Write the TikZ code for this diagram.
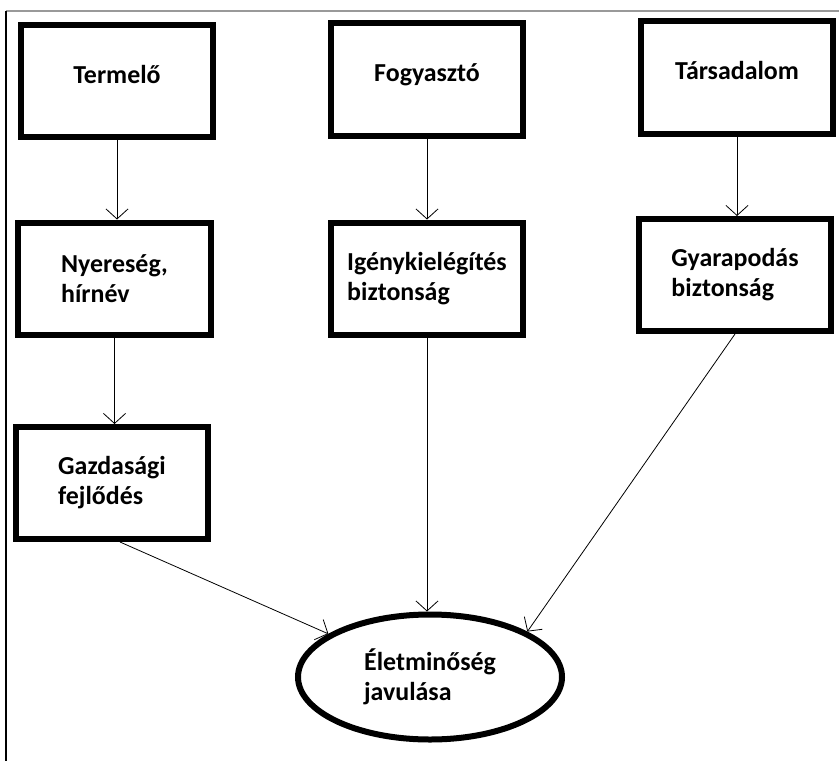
\documentclass[tikz,border=0pt]{standalone}
\usepackage{fontspec}
\setmainfont{Carlito}
\usetikzlibrary{arrows.meta,shapes.geometric}
\tikzset{
  box/.style={draw, rectangle, line width=6bp, minimum width=192bp, minimum height=112bp, font=\bfseries\fontsize{26}{30}\selectfont},
  oneline/.style={text height=0.7em, text depth=0.25em},
  twoline/.style={align=left},
  oval/.style={draw, ellipse, line width=6bp, minimum width=264bp, minimum height=125bp, inner sep=0pt, align=left, font=\bfseries\fontsize{26}{30}\selectfont},
  arr/.style={-{Straight Barb[length=10bp,width=22bp]}, line width=0.8bp}
}
\begin{document}
\begin{tikzpicture}[x=1bp,y=-1bp]
        \useasboundingbox (0,0) rectangle (839,761);
        % frame
        \draw [gray!80, line width=2bp] (6,11) -- (839,11);
        \draw [line width=1.5bp] (6,11) -- (6,761);
        % top row
        \node [box,oneline] (termelo) at (117,81) {Termel\H{o}};
        \node [box,oneline] (fogyaszto) at (427,79.5) {Fogyasztó};
        \node [box,oneline] (tarsadalom) at (737,77.5) {Társadalom};
        % second row
        \node [box,twoline] (nyereseg) at (114.5,278.5) {Nyereség,\\hírnév};
        \node [box,twoline] (igeny) at (427,278.5) {Igénykielégítés\\biztonság};
        \node [box,twoline] (gyarapodas) at (735,275) {Gyarapodás\\biztonság};
        % third row
        \node [box,twoline] (gazdasagi) at (112,483) {Gazdasági\\fejlődés};
        \node [oval] (elet) at (430,677) {Életminőség\\javulása};
        % arrows
        \draw [arr] (termelo.south) -- (termelo.south |- nyereseg.north);
        \draw [arr] (fogyaszto.south) -- (fogyaszto.south |- igeny.north);
        \draw [arr] (tarsadalom.south) -- (tarsadalom.south |- gyarapodas.north);
        \draw [arr] (nyereseg.south) -- (nyereseg.south |- gazdasagi.north);
        \draw [arr] ([xshift=8bp]gazdasagi.south) -- (elet.157);
        \draw [arr] (igeny.south) -- (igeny.south |- elet.north);
        \draw [arr] (gyarapodas.south) -- (elet.25);
\end{tikzpicture}
\end{document}
